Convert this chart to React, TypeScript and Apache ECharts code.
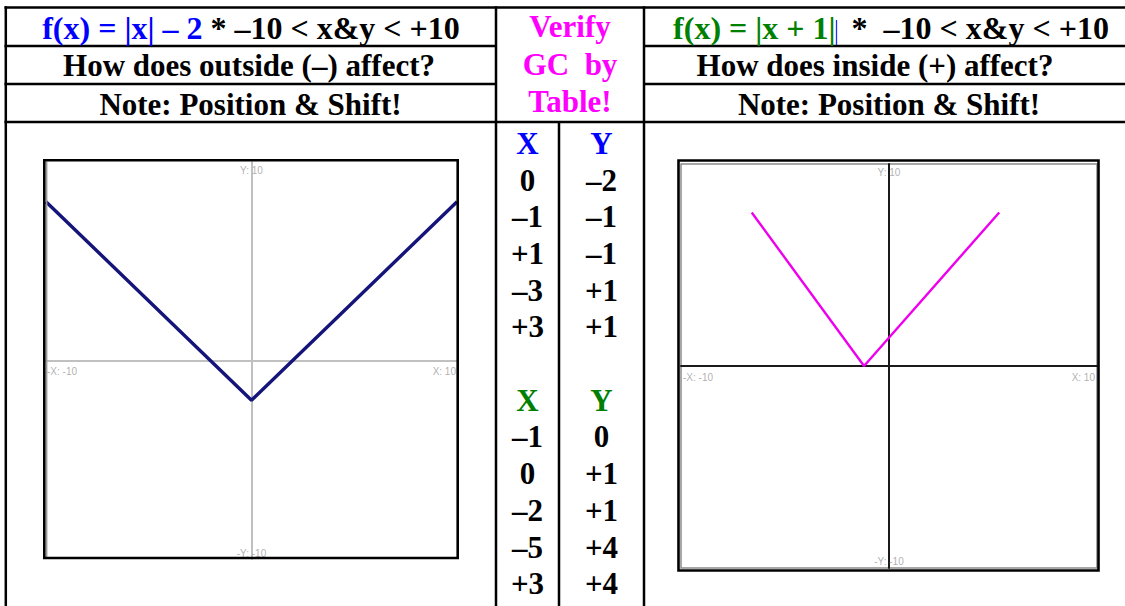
import React, { useEffect, useRef } from 'react';
import * as echarts from 'echarts';

// ---- data ----
const axisRange = [-10, 10];
const leftCurveX = [-10, 0, 10];
const leftCurveY = [8, -2, 8];
const rightCurveX = [-6.6, -1.2, 5.3];
const rightCurveY = [7.6, 0, 7.6];
const axisLabelTexts = ['Y: 10', '-X: -10', 'X: 10', '-Y: -10'];
const axisLabelPoints = [[0, 10], [-10, 0], [10, 0], [0, -10]];
const table1X = ['0', '–1', '+1', '–3', '+3'];
const table1Y = ['–2', '–1', '–1', '+1', '+1'];
const table2X = ['–1', '0', '–2', '–5', '+3'];
const table2Y = ['0', '+1', '+1', '+4', '+4'];
const titleLeft = ['f(x) = |x| – 2', ' * –10 < x&y < +10'];
const titleRight = ['f(x) = |x + 1|', '  *  –10 < x&y < +10'];
const headerLeft = ['How does outside (–) affect?', 'Note: Position & Shift!'];
const headerRight = ['How does inside (+) affect?', 'Note: Position & Shift!'];
const verifyLines = ['Verify', 'GC  by', 'Table!'];

const SERIF = '"Liberation Serif", "Times New Roman", serif';
const SANS = '"Liberation Sans", Arial, sans-serif';
const FS = 31;
const FS_TITLE = 32;

function txt(text: string, x: number, y: number, fill = '#000', size = FS) {
  return {
    type: 'text',
    x,
    y,
    z: 10,
    style: {
      text,
      fill,
      fontSize: size,
      fontWeight: 'bold',
      fontFamily: SERIF,
      align: 'center',
      verticalAlign: 'middle',
    },
  };
}

function ln(x1: number, y1: number, x2: number, y2: number, w = 2.5, c = '#000') {
  return {
    type: 'line',
    z: 5,
    shape: { x1, y1, x2, y2 },
    style: { stroke: c, lineWidth: w },
  };
}

function axisLabelSeries(gridIdx: number, offs: any) {
  const cfgs = [
    { position: 'bottom', distance: offs.top, align: 'center' },
    { position: [offs.left, offs.below], align: 'left', verticalAlign: 'top' },
    { position: [offs.right, offs.below], align: 'right', verticalAlign: 'top' },
    { position: 'top', distance: offs.bottom, align: 'center' },
  ];
  return {
    type: 'scatter',
    xAxisIndex: gridIdx,
    yAxisIndex: gridIdx,
    symbolSize: 0,
    silent: true,
    z: 4,
    data: axisLabelPoints.map((p, i) => ({
      value: p,
      label: {
        show: true,
        formatter: axisLabelTexts[i],
        color: '#9c9c9c',
        fontSize: 10,
        fontFamily: SANS,
        ...cfgs[i],
      },
    })),
  };
}

export default function App() {
  const ref = useRef<HTMLDivElement>(null);
  useEffect(() => {
    if (!ref.current) return;
    const chart = echarts.init(ref.current, undefined, { renderer: 'svg' });

    const graphics: any[] = [];
    // table frame
    graphics.push(ln(4.5, 7.5, 1125, 7.5));
    graphics.push(ln(4.5, 46, 496, 46));
    graphics.push(ln(644, 46, 1125, 46));
    graphics.push(ln(4.5, 84, 496, 84));
    graphics.push(ln(644, 84, 1125, 84));
    graphics.push(ln(4.5, 122, 1125, 122));
    graphics.push(ln(5.8, 6.3, 5.8, 606));
    graphics.push(ln(496, 6.3, 496, 606));
    graphics.push(ln(644, 6.3, 644, 606));
    graphics.push(ln(559, 122, 559, 606));

    // header texts
    const richStyle = (col: string) => ({
      a: { fill: col, fontSize: FS_TITLE, fontWeight: 'bold', fontFamily: SERIF },
      k: { fill: '#000', fontSize: FS_TITLE, fontWeight: 'bold', fontFamily: SERIF },
    });
    graphics.push({
      type: 'text', x: 251, y: 28, z: 10,
      style: {
        text: `{a|${titleLeft[0]}}{k|${titleLeft[1]}}`,
        rich: richStyle('#0000ff'),
        align: 'center', verticalAlign: 'middle',
        fontSize: FS_TITLE, fontWeight: 'bold', fontFamily: SERIF,
      },
    });
    graphics.push({
      type: 'text', x: 891, y: 28, z: 10,
      style: {
        text: `{a|${titleRight[0]}}{k|${titleRight[1]}}`,
        rich: richStyle('#008000'),
        align: 'center', verticalAlign: 'middle',
        fontSize: FS_TITLE, fontWeight: 'bold', fontFamily: SERIF,
      },
    });
    // small blue cursor mark after the green formula
    graphics.push(ln(836.5, 20, 836.5, 45, 1.3, '#2a2aff'));

    graphics.push(txt(headerLeft[0], 249, 65));
    graphics.push(txt(headerLeft[1], 250.5, 104));
    graphics.push(txt(headerRight[0], 875, 65));
    graphics.push(txt(headerRight[1], 889, 104));
    verifyLines.forEach((t, i) => graphics.push(txt(t, 570, 26.5 + i * 37.5, '#ff00ff')));

    // middle verification table
    const rowY = (k: number) => 143.3 + 36.7 * k;
    const cx = 527.5, cy = 601.5;
    graphics.push(txt('X', cx, rowY(0), '#0000ff'));
    graphics.push(txt('Y', cy, rowY(0), '#0000ff'));
    table1X.forEach((t, i) => graphics.push(txt(t, cx, rowY(i + 1))));
    table1Y.forEach((t, i) => graphics.push(txt(t, cy, rowY(i + 1))));
    graphics.push(txt('X', cx, rowY(7), '#008000'));
    graphics.push(txt('Y', cy, rowY(7), '#008000'));
    table2X.forEach((t, i) => graphics.push(txt(t, cx, rowY(i + 8))));
    table2Y.forEach((t, i) => graphics.push(txt(t, cy, rowY(i + 8))));

    // graph frames
    graphics.push({
      type: 'rect', z: 6,
      shape: { x: 44.3, y: 160.3, width: 413.4, height: 397.7 },
      style: { fill: 'none', stroke: '#000', lineWidth: 2.6 },
    });
    graphics.push(ln(46.6, 161.5, 46.6, 557, 1.6, '#9a9a9a'));
    graphics.push({
      type: 'rect', z: 6,
      shape: { x: 678.5, y: 160.5, width: 420, height: 410 },
      style: { fill: 'none', stroke: '#000', lineWidth: 2.6 },
    });

    const axisCommon = (color: string, width: number) => ({
      type: 'value',
      min: axisRange[0],
      max: axisRange[1],
      axisLine: { show: true, onZero: true, lineStyle: { color, width } },
      axisTick: { show: false },
      axisLabel: { show: false },
      splitLine: { show: false },
    });

    const option: any = {
      animation: false,
      backgroundColor: '#ffffff',
      grid: [
        { left: 46, top: 162, width: 411, height: 397, show: false },
        {
          left: 681, top: 164, width: 416, height: 404, show: true,
          borderColor: '#8a8a8a', borderWidth: 1.5, backgroundColor: 'transparent',
        },
      ],
      xAxis: [
        { gridIndex: 0, ...axisCommon('#c0c0c0', 2) },
        { gridIndex: 1, ...axisCommon('#1a1a1a', 2) },
      ],
      yAxis: [
        { gridIndex: 0, ...axisCommon('#c0c0c0', 2) },
        { gridIndex: 1, ...axisCommon('#1a1a1a', 2) },
      ],
      series: [
        {
          type: 'line', xAxisIndex: 0, yAxisIndex: 0, symbol: 'none', z: 3,
          data: leftCurveX.map((x, i) => [x, leftCurveY[i]]),
          lineStyle: { color: '#14147a', width: 3.4 },
        },
        {
          type: 'line', xAxisIndex: 1, yAxisIndex: 1, symbol: 'none', z: 3,
          data: rightCurveX.map((x, i) => [x, rightCurveY[i]]),
          lineStyle: { color: '#ee00ee', width: 2.4 },
        },
        axisLabelSeries(0, { top: 3, left: 1, right: -1, below: 6, bottom: 1 }),
        axisLabelSeries(1, { top: 3, left: 2, right: -2, below: 6, bottom: 2 }),
      ],
      graphic: graphics,
    };
    chart.setOption(option);
    return () => chart.dispose();
  }, []);
  return (
    <div
      ref={ref}
      style={{ position: 'fixed', left: 0, top: 0, width: 1125, height: 606, background: '#fff' }}
    />
  );
}
